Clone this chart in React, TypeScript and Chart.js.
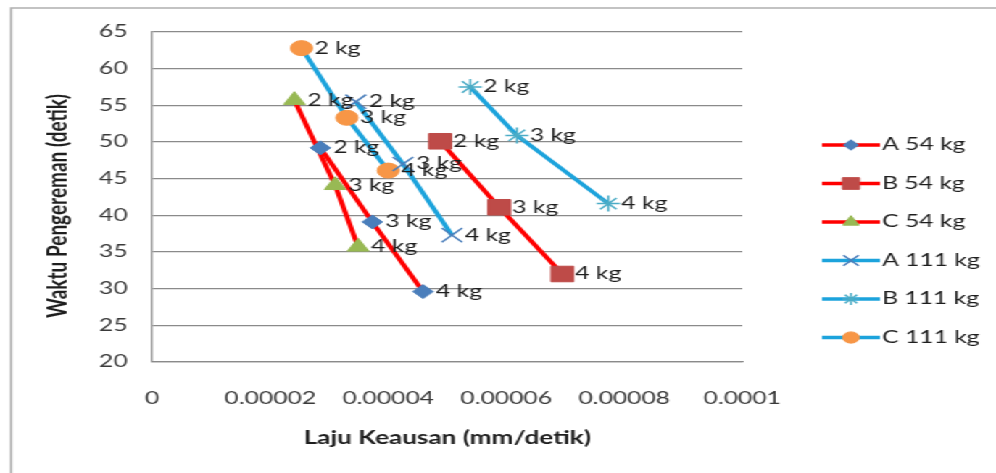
import React, { useEffect, useRef } from 'react';
import { Chart, registerables, PointElement } from 'chart.js';

Chart.register(...registerables);

// ---- data ----
const weightLabels = ['2 kg', '3 kg', '4 kg'];
const seriesNames = ['A 54 kg', 'B 54 kg', 'C 54 kg', 'A 111 kg', 'B 111 kg', 'C 111 kg'];

const a54X = [0.0000285, 0.0000373, 0.0000459];
const a54Y = [49.2, 39.1, 29.6];
const b54X = [0.0000488, 0.0000588, 0.0000695];
const b54Y = [50.1, 41.1, 32.0];
const c54X = [0.0000241, 0.000031, 0.0000349];
const c54Y = [55.7, 44.1, 35.7];
const a111X = [0.0000345, 0.0000425, 0.0000508];
const a111Y = [55.5, 47.0, 37.3];
const b111X = [0.0000539, 0.0000618, 0.0000773];
const b111Y = [57.5, 50.9, 41.6];
const c111X = [0.0000253, 0.000033, 0.00004];
const c111Y = [62.8, 53.3, 46.1];

const xTickLabels = ['0', '0.00002', '0.00004', '0.00006', '0.00008', '0.0001'];
const yTickLabels = ['20', '25', '30', '35', '40', '45', '50', '55', '60', '65'];
const xTitle = 'Laju Keausan (mm/detik)';
const yTitle = 'Waktu Pengereman (detik)';

// ---- layout / style ----
const CANVAS_W = 687;
const CANVAS_H = 473;
const STRETCH = 996 / CANVAS_W;
const FONT = 'Lato, "Open Sans", sans-serif';
const RED = '#FF0000';
const BLUE = '#1CA3DC';
const TEXT = '#1e1e1e';

type Style = { line: string; pointStyle: string; radius: number; fill: string; stroke: string; bw: number };
const styles: Style[] = [
  { line: RED, pointStyle: 'rectRot', radius: 7, fill: '#4A7EBB', stroke: '#4A7EBB', bw: 1 },
  { line: RED, pointStyle: 'rect', radius: 11, fill: '#BE4B48', stroke: '#BE4B48', bw: 1 },
  { line: RED, pointStyle: 'triangle', radius: 8.5, fill: '#98B954', stroke: '#98B954', bw: 1 },
  { line: BLUE, pointStyle: 'crossRot', radius: 10, fill: '#4A7EBB', stroke: '#4A7EBB', bw: 1.5 },
  { line: BLUE, pointStyle: 'star', radius: 8, fill: '#4BACC6', stroke: '#4BACC6', bw: 1.5 },
  { line: BLUE, pointStyle: 'circle', radius: 7.5, fill: '#F79646', stroke: '#F79646', bw: 1 },
];
const xs = [a54X, b54X, c54X, a111X, b111X, c111X];
const ys = [a54Y, b54Y, c54Y, a111Y, b111Y, c111Y];

const framePlugin = {
  id: 'frame',
  beforeDraw(chart: any) {
    const { ctx, width, height } = chart;
    ctx.save();
    ctx.fillStyle = '#ffffff';
    ctx.fillRect(0, 0, width, height);
    ctx.strokeStyle = '#b0b0b0';
    ctx.lineWidth = 1.5;
    ctx.beginPath();
    ctx.moveTo(7.6, height);
    ctx.lineTo(7.6, 8);
    ctx.lineTo(width, 8);
    ctx.stroke();
    ctx.restore();
  },
  afterDraw(chart: any) {
    const { ctx } = chart;
    ctx.save();
    ctx.translate(39.7, 206);
    ctx.rotate(-Math.PI / 2);
    ctx.font = `bold 19px ${FONT}`;
    ctx.fillStyle = TEXT;
    ctx.textAlign = 'center';
    ctx.textBaseline = 'middle';
    ctx.fillText(yTitle, 0, 0);
    ctx.restore();
  },
};

const labelPlugin = {
  id: 'pointLabels',
  afterDatasetsDraw(chart: any) {
    const { ctx } = chart;
    ctx.save();
    ctx.font = `17px ${FONT}`;
    ctx.fillStyle = TEXT;
    ctx.textAlign = 'left';
    ctx.textBaseline = 'middle';
    chart.data.datasets.forEach((_ds: any, i: number) => {
      const meta = chart.getDatasetMeta(i);
      meta.data.forEach((el: any, j: number) => {
        ctx.fillText(weightLabels[j], el.x + 9, el.y);
      });
    });
    ctx.restore();
  },
};

const legendPlugin = {
  id: 'sideLegend',
  afterDraw(chart: any) {
    const { ctx } = chart;
    const area = { left: -1e4, top: -1e4, right: 1e4, bottom: 1e4 };
    ctx.save();
    chart.data.datasets.forEach((ds: any, i: number) => {
      const st = styles[i];
      const cy = 145 + i * 38.5;
      const x0 = 822 / STRETCH;
      const x1 = 880 / STRETCH;
      ctx.strokeStyle = st.line;
      ctx.lineWidth = 3.5;
      ctx.beginPath();
      ctx.moveTo(x0, cy);
      ctx.lineTo(x1, cy);
      ctx.stroke();
      const pt: any = new PointElement({});
      pt.x = (x0 + x1) / 2;
      pt.y = cy;
      pt.options = {
        pointStyle: st.pointStyle,
        radius: st.radius * 0.75,
        rotation: 0,
        borderWidth: st.bw,
        backgroundColor: st.fill,
        borderColor: st.stroke,
      };
      pt.draw(ctx, area);
      ctx.font = `17px ${FONT}`;
      ctx.fillStyle = TEXT;
      ctx.textAlign = 'left';
      ctx.textBaseline = 'middle';
      ctx.fillText(ds.label, x1 + 1.5, cy);
    });
    ctx.restore();
  },
};

export default function App() {
  const ref = useRef<HTMLCanvasElement | null>(null);

  useEffect(() => {
    if (!ref.current) return;
    const datasets = seriesNames.map((name, i) => {
      const st = styles[i];
      return {
        label: name,
        data: xs[i].map((x, j) => ({ x, y: ys[i][j] })),
        borderColor: st.line,
        backgroundColor: st.line,
        borderWidth: 3.5,
        fill: false,
        tension: 0,
        pointStyle: st.pointStyle,
        pointRadius: st.radius,
        pointHoverRadius: st.radius,
        pointBackgroundColor: st.fill,
        pointBorderColor: st.stroke,
        pointBorderWidth: st.bw,
      };
    });

    const chart = new Chart(ref.current, {
      type: 'line',
      data: { datasets },
      plugins: [framePlugin, labelPlugin, legendPlugin],
      options: {
        responsive: false,
        animation: false,
        devicePixelRatio: 1,
        layout: { padding: { left: 0, top: 32, right: CANVAS_W - 512, bottom: 0 } },
        plugins: {
          legend: { display: false },
          tooltip: { enabled: false },
          title: { display: false },
        },
        scales: {
          x: {
            type: 'linear',
            min: 0,
            max: 0.0001,
            afterFit: (s: any) => { s.height = CANVAS_H - 362; },
            ticks: {
              stepSize: 0.00002,
              padding: 26,
              color: '#3a3a3a',
              font: { family: FONT, size: 17 },
              maxRotation: 0,
              autoSkip: false,
              callback: (_v: any, i: number) => xTickLabels[i] ?? '',
            },
            grid: { display: false, drawTicks: false },
            border: { display: true, color: '#8a8a8a', width: 1.3 },
            title: {
              display: true,
              text: xTitle,
              color: TEXT,
              font: { family: FONT, size: 18, weight: 'bold' },
              padding: { top: 0, bottom: 24.2 },
            },
          },
          y: {
            type: 'linear',
            min: 20,
            max: 65,
            afterFit: (s: any) => { s.width = 105; },
            ticks: {
              stepSize: 5,
              padding: 17,
              color: '#3a3a3a',
              font: { family: FONT, size: 17 },
              callback: (_v: any, i: number) => yTickLabels[i] ?? '',
            },
            grid: { display: true, drawTicks: false, color: '#8a8a8a', lineWidth: 1.3 },
            border: { display: true, color: '#8a8a8a', width: 1.3 },
            title: { display: false },
          },
        },
      } as any,
    });
    return () => chart.destroy();
  }, []);

  return (
    <div
      style={{
        position: 'absolute',
        left: 0,
        top: 0,
        width: CANVAS_W,
        height: CANVAS_H,
        transform: `scaleX(${STRETCH})`,
        transformOrigin: '0 0',
        background: '#fff',
      }}
    >
      <canvas ref={ref} width={CANVAS_W} height={CANVAS_H} style={{ display: 'block' }} />
    </div>
  );
}
